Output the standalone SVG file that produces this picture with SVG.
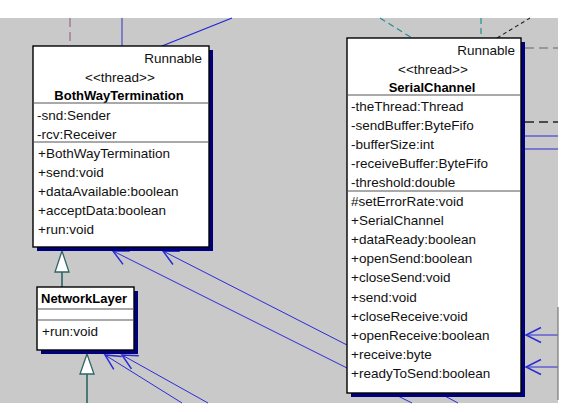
<svg xmlns="http://www.w3.org/2000/svg" width="563" height="412" viewBox="0 0 563 412">
<style>
.t{font-family:"Liberation Sans",Arial,sans-serif;font-size:13.5px;fill:#111}
.b{font-family:"Liberation Sans",Arial,sans-serif;font-size:13px;font-weight:bold;fill:#000;text-anchor:middle}
.m{text-anchor:middle}
.e{text-anchor:end}
.box{fill:#fff;stroke:#000;stroke-width:1.4}
.sh{fill:#00007a}
.sep{stroke:#555;stroke-width:1.2}
.as{fill:none;stroke:#2b2bd6;stroke-width:1}
.gen{stroke:#2e6464;stroke-width:1.6;fill:none}
.tri{fill:#fff;stroke:#2e6464;stroke-width:1.3}
</style>
<defs>
<marker id="open" markerUnits="userSpaceOnUse" orient="auto" markerWidth="20" markerHeight="20" viewBox="-14 -8 16 16" refX="0" refY="0" overflow="visible">
<path d="M-12,-6 L0,0 L-12,6" fill="none" stroke="#2b2bd6" stroke-width="1.2"/>
</marker>
</defs>
<rect x="0" y="0" width="563" height="412" fill="#fff"/>
<rect x="0" y="18" width="558" height="385" fill="#c9c9c9"/>
<g id="connectors">
<path d="M70,18 V46" stroke="#9a6a8a" stroke-width="1.2" stroke-dasharray="9,5" fill="none"/>
<path d="M122,18 V46" stroke="#4b4bc8" stroke-width="1.2" fill="none"/>
<path d="M162,46 L232,18" stroke="#2525d5" stroke-width="1.2" fill="none"/>
<path d="M380,18 L412,38" stroke="#1f8f8f" stroke-width="1.2" stroke-dasharray="6,4" fill="none"/>
<path d="M481,18 V38" stroke="#1f8f8f" stroke-width="1.2" stroke-dasharray="6,4" fill="none"/>
<path d="M497,38 L530,18" stroke="#222" stroke-width="1.1" stroke-dasharray="4,3" fill="none"/>
<path d="M525,48 H558" stroke="#666" stroke-width="1.2" stroke-dasharray="9,5" fill="none"/>
<path d="M525,122 H558" stroke="#222" stroke-width="1.4" stroke-dasharray="9,5" fill="none"/>
<path class="as" d="M525,136 H558"/>
<path class="as" d="M525,149 H558"/>
<path class="as" d="M558,335 H526" marker-end="url(#open)"/>
<path class="as" d="M558,367 H526" marker-end="url(#open)"/>
<path d="M558,307 V400" stroke="#777" stroke-width="1.2" fill="none"/>
<path class="as" d="M347,368 L113,251" marker-end="url(#open)"/>
<path class="as" d="M347,345 L163,251" marker-end="url(#open)"/>
<path class="as" d="M182,403 L105,355" marker-end="url(#open)"/>
<path class="as" d="M208,403 L122,355" marker-end="url(#open)"/>
<path class="as" d="M380,387 L412,403"/>
<path class="as" d="M428,387 L458,403"/>
<path class="gen" d="M62,272 V287"/>
<polygon class="tri" points="62,251 55,272 69,272"/>
<path class="gen" d="M87,374 V403"/>
<polygon class="tri" points="87,354 80,374 94,374"/>
</g>
<g id="BothWayTermination">
<rect class="sh" x="37" y="50" width="176" height="201"/>
<rect class="box" x="33" y="46" width="176" height="201"/>
<text class="t e" x="202" y="63">Runnable</text>
<text class="t m" x="120" y="82">&lt;&lt;thread&gt;&gt;</text>
<text class="b" x="119" y="100">BothWayTermination</text>
<line class="sep" x1="33" y1="103" x2="209" y2="103"/>
<text class="t" x="37" y="120">-snd:Sender</text>
<text class="t" x="37" y="139">-rcv:Receiver</text>
<line class="sep" x1="33" y1="142" x2="209" y2="142"/>
<text class="t" x="38" y="158">+BothWayTermination</text>
<text class="t" x="38" y="177">+send:void</text>
<text class="t" x="38" y="196">+dataAvailable:boolean</text>
<text class="t" x="38" y="215">+acceptData:boolean</text>
<text class="t" x="38" y="234">+run:void</text>
</g>
<g id="NetworkLayer">
<rect class="sh" x="41" y="291" width="97" height="63"/>
<rect class="box" x="37" y="287" width="97" height="63"/>
<text class="b" x="84" y="303">NetworkLayer</text>
<line class="sep" x1="37" y1="309" x2="134" y2="309"/>
<line class="sep" x1="37" y1="320" x2="134" y2="320"/>
<text class="t" x="42" y="336">+run:void</text>
</g>
<g id="SerialChannel">
<rect class="sh" x="351" y="42" width="174" height="355"/>
<rect class="box" x="347" y="38" width="174" height="355"/>
<text class="t e" x="515" y="55">Runnable</text>
<text class="t m" x="433" y="74">&lt;&lt;thread&gt;&gt;</text>
<text class="b" x="432" y="92">SerialChannel</text>
<line class="sep" x1="347" y1="95" x2="521" y2="95"/>
<text class="t" x="351" y="111">-theThread:Thread</text>
<text class="t" x="351" y="130">-sendBuffer:ByteFifo</text>
<text class="t" x="351" y="149">-bufferSize:int</text>
<text class="t" x="351" y="168">-receiveBuffer:ByteFifo</text>
<text class="t" x="351" y="187">-threshold:double</text>
<line class="sep" x1="347" y1="191" x2="521" y2="191"/>
<text class="t" x="351" y="206">#setErrorRate:void</text>
<text class="t" x="351" y="225">+SerialChannel</text>
<text class="t" x="351" y="244">+dataReady:boolean</text>
<text class="t" x="351" y="263">+openSend:boolean</text>
<text class="t" x="351" y="282">+closeSend:void</text>
<text class="t" x="351" y="302">+send:void</text>
<text class="t" x="351" y="321">+closeReceive:void</text>
<text class="t" x="351" y="340">+openReceive:boolean</text>
<text class="t" x="351" y="359">+receive:byte</text>
<text class="t" x="351" y="378">+readyToSend:boolean</text>
</g>
</svg>
